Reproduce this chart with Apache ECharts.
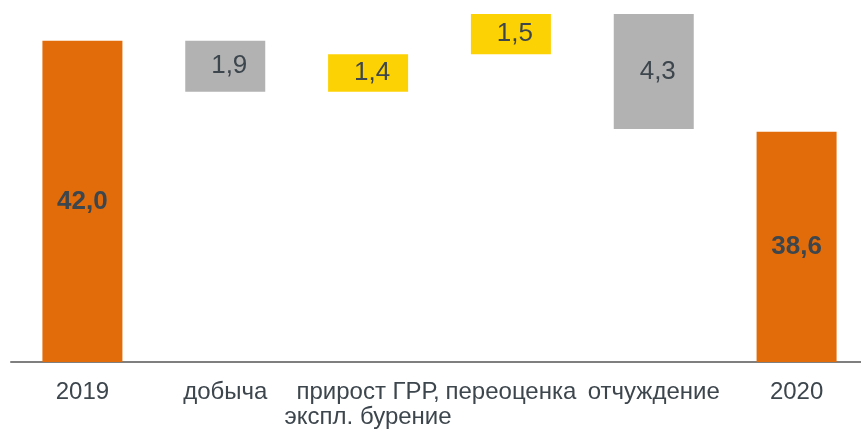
<!DOCTYPE html>
<html>
<head>
<meta charset="utf-8">
<script src="https://cdn.jsdelivr.net/npm/echarts@6/dist/echarts.min.js"></script>
<style>
  html, body { margin: 0; padding: 0; background: #fff; overflow: hidden; }
  /* ось уходит за правый край, как в оригинале */
  #chart { width: 868px; height: 432px; }
</style>
</head>
<body>
<div id="chart"></div>
<script>
  // данные водопада
  var categories = ['2019', 'добыча', 'прирост ГРР,\nэкспл. бурение', 'переоценка', 'отчуждение', '2020'];
  var values = [42.0, -1.9, 1.4, 1.5, -4.3, 38.6];
  var kinds = ['total', 'delta', 'delta', 'delta', 'delta', 'total'];

  var colorTotal = '#E36C0A';
  var colorDown = '#B2B2B2';
  var colorUp = '#FDD205';
  var textColor = '#3D464D';

  // невидимое основание + видимая часть
  var base = [];
  var visible = [];
  var running = 0;
  for (var i = 0; i < values.length; i++) {
    if (kinds[i] === 'total') {
      base.push(0);
      visible.push({ value: values[i], itemStyle: { color: colorTotal } });
      running = values[i];
    } else if (values[i] >= 0) {
      base.push(running);
      visible.push({ value: values[i], itemStyle: { color: colorUp } });
      running += values[i];
    } else {
      running += values[i];
      base.push(running);
      visible.push({ value: -values[i], itemStyle: { color: colorDown } });
    }
  }

  var chart = echarts.init(document.getElementById('chart'));
  chart.setOption({
    animation: false,
    textStyle: { fontFamily: 'Liberation Sans, Arial, sans-serif' },
    grid: { left: 11, top: 14, right: 0, height: 348, containLabel: false },
    xAxis: {
      type: 'category',
      data: categories,
      axisLine: { lineStyle: { color: '#7F7F7F', width: 2 } },
      axisTick: { show: false },
      axisLabel: {
        interval: 0,
        color: textColor,
        fontSize: 24,
        lineHeight: 25,
        margin: 18
      }
    },
    yAxis: {
      type: 'value',
      min: 30,
      max: 43,
      show: false,
      splitLine: { show: false }
    },
    series: [
      {
        type: 'bar',
        stack: 'w',
        barWidth: 80,
        itemStyle: { color: 'transparent' },
        silent: true,
        data: base
      },
      {
        type: 'bar',
        stack: 'w',
        barWidth: 80,
        data: visible,
        label: {
          show: true,
          position: 'inside',
          color: textColor,
          fontSize: 26,
          formatter: function (p) {
            var s = Math.abs(values[p.dataIndex]).toFixed(1).replace('.', ',');
            return kinds[p.dataIndex] === 'total' ? '{b|' + s + '}' : '{d|' + s + '}';
          },
          rich: {
            b: { fontWeight: 'bold', fontSize: 26, color: textColor },
            d: { fontSize: 26, color: textColor, padding: [0, 0, 0, 8] }
          }
        }
      }
    ]
  });
</script>
</body>
</html>
